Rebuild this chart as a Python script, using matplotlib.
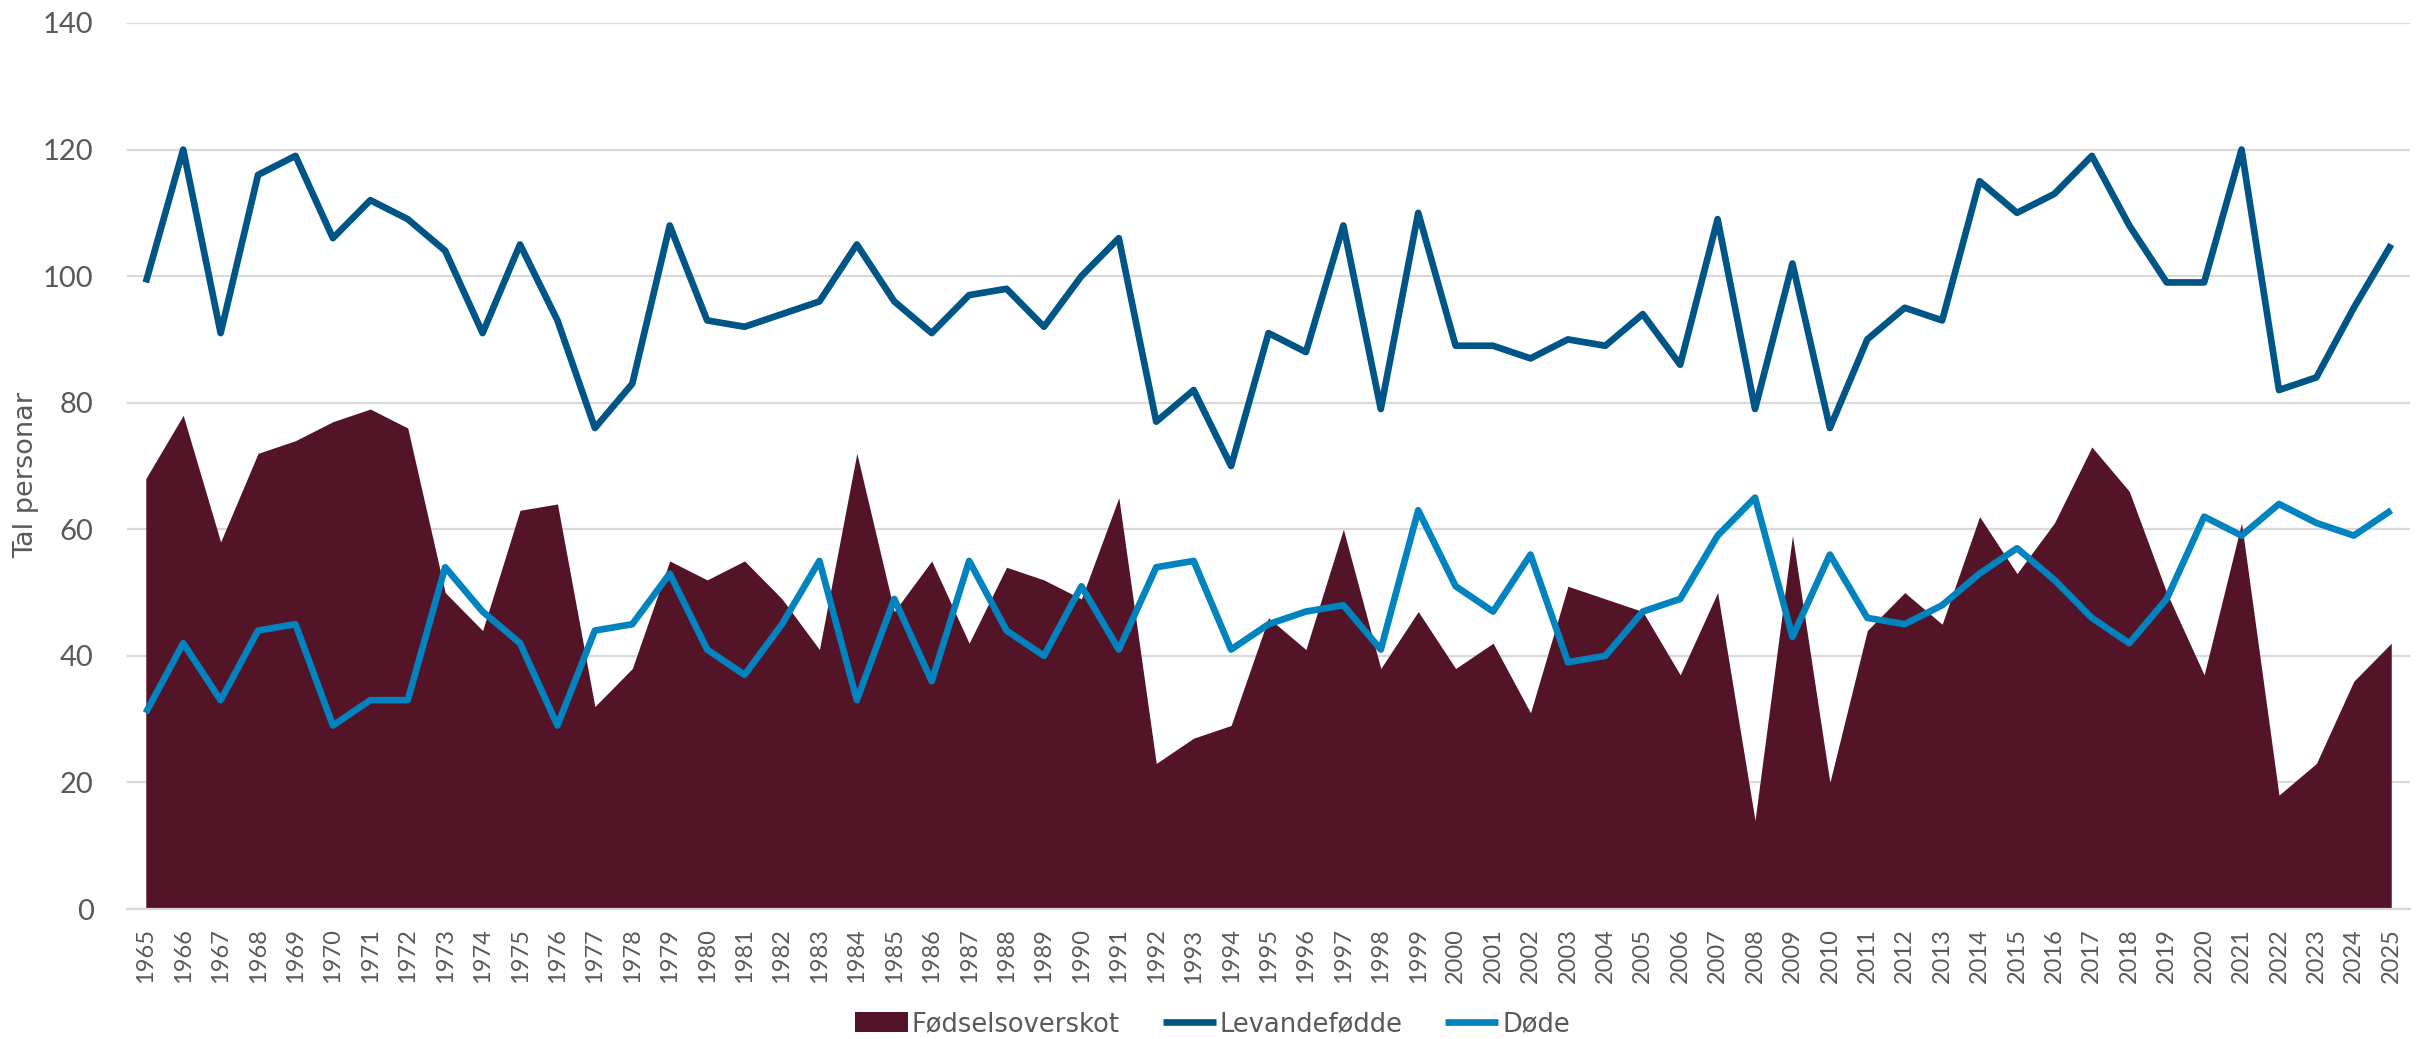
import matplotlib
matplotlib.use("Agg")
import matplotlib.pyplot as plt
import numpy as np

years = list(range(1965, 2026))
levandefodde = [99, 120, 91, 116, 119, 106, 112, 109, 104, 91, 105, 93, 76, 83, 108, 93, 92, 94, 96, 105,
                96, 91, 97, 98, 92, 100, 106, 77, 82, 70, 91, 88, 108, 79, 110, 89, 89, 87, 90, 89,
                94, 86, 109, 79, 102, 76, 90, 95, 93, 115, 110, 113, 119, 108, 99, 99, 120, 82, 84, 95, 105]
dode = [31, 42, 33, 44, 45, 29, 33, 33, 54, 47, 42, 29, 44, 45, 53, 41, 37, 45, 55, 33,
        49, 36, 55, 44, 40, 51, 41, 54, 55, 41, 45, 47, 48, 41, 63, 51, 47, 56, 39, 40,
        47, 49, 59, 65, 43, 56, 46, 45, 48, 53, 57, 52, 46, 42, 49, 62, 59, 64, 61, 59, 63]
fodselsoverskot = [68, 78, 58, 72, 74, 77, 79, 76, 50, 44, 63, 64, 32, 38, 55, 52, 55, 49, 41, 72,
                   47, 55, 42, 54, 52, 49, 65, 23, 27, 29, 46, 41, 60, 38, 47, 38, 42, 31, 51, 49,
                   47, 37, 50, 14, 59, 20, 44, 50, 45, 62, 53, 61, 73, 66, 50, 37, 61, 18, 23, 36, 42]
yticks = [0, 20, 40, 60, 80, 100, 120, 140]

c_area = "#541428"
c_lev = "#005587"
c_dod = "#0083BF"
c_text = "#595959"
font_num = "Lato"
font_txt = "DejaVu Sans"

fig = plt.figure(figsize=(24.25, 10.39), dpi=100)
ax = fig.add_axes([0.0524, 0.1251, 0.9414, 0.8528])

ax.fill_between(years, 0, fodselsoverskot, color=c_area, linewidth=0, label="Fødselsoverskot", zorder=2)
ax.plot(years, levandefodde, color=c_lev, linewidth=4.8, label="Levandefødde", zorder=3,
        solid_joinstyle="round", solid_capstyle="butt")
ax.plot(years, dode, color=c_dod, linewidth=4.8, label="Døde", zorder=3,
        solid_joinstyle="round", solid_capstyle="butt")

ax.set_xlim(1964.5, 2025.5)
ax.set_ylim(0, 140)
ax.set_yticks(yticks)
ax.set_xticks(years)
ax.set_xticklabels([str(y) for y in years], rotation=90, fontsize=17, color=c_text, family=font_num)
ax.set_yticklabels([str(v) for v in yticks], fontsize=21, color=c_text, family=font_num)
ax.tick_params(axis="both", length=0)
ax.tick_params(axis="x", pad=14)
ax.tick_params(axis="y", pad=24)
ax.grid(axis="y", color="#D9D9D9", linewidth=1.6, zorder=0)
for s in ["top", "right", "left"]:
    ax.spines[s].set_visible(False)
ax.spines["bottom"].set_color("#D9D9D9")
ax.spines["bottom"].set_linewidth(1.6)
ax.set_ylabel("Tal personar", fontsize=19.5, color=c_text, family=font_txt)
ax.yaxis.set_label_coords(-0.0385, 0.49)

leg = fig.legend(loc="center", bbox_to_anchor=(0.5, 0.0144), ncol=3, frameon=False,
                 prop={"family": font_txt, "size": 18.5}, handlelength=2.06, handleheight=0.78,
                 columnspacing=1.67, handletextpad=0.15, borderaxespad=0, borderpad=0)
for t in leg.get_texts():
    t.set_color(c_text)

fig.savefig("out.png", dpi=100)
